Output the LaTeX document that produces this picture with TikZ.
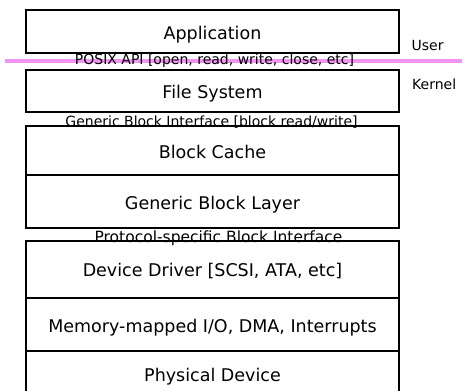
\documentclass[tikz,border=0pt]{standalone}
\usepackage{fontspec}
\setmainfont{DejaVu Sans}
\begin{document}
\begin{tikzpicture}[x=1pt,y=-1pt,
  layerbox/.style={draw=black, line width=1.9pt},
  boundary/.style={draw={rgb,255:red,240;green,136;blue,240}, line width=3.4pt, opacity=0.9},
  boxtext/.style={anchor=base, inner sep=0pt, font=\fontsize{17.5}{17.5}\selectfont},
  ifacetext/.style={anchor=base, inner sep=0pt, font=\fontsize{14}{14}\selectfont},
  sidetext/.style={anchor=base west, inner sep=0pt, font=\fontsize{14}{14}\selectfont},
]
\fill[white] (0,0) rectangle (472,391);
\useasboundingbox (0,0) rectangle (472,391);

% user / kernel boundary
\coordinate (bl) at (5,61);
\coordinate (br) at (462,61);
\draw[boundary] (bl) -- (br);

% layer boxes
\draw[layerbox] (26,10) rectangle (399,53);
\draw[layerbox] (26,70) rectangle (399,112);
\draw[layerbox] (26,126) rectangle (399,228);
\draw[layerbox] (26,175) -- (399,175);
\draw[layerbox] (26,392) -- (26,241) -- (399,241) -- (399,392);
\draw[layerbox] (26,298) -- (399,298);
\draw[layerbox] (26,351) -- (399,351);

% layer names
\node[boxtext] (app) at (212.5,39.5) {Application};
\node[boxtext] (fs) at (212.5,98) {File System};
\node[boxtext] (cache) at (212.5,158.3) {Block Cache};
\node[boxtext] (gbl) at (212.5,209.3) {Generic Block Layer};
\node[boxtext] (drv) at (212.5,276.7) {Device Driver [SCSI, ATA, etc]};
\node[boxtext] (mmio) at (212.5,332.7) {Memory-mapped I/O, DMA, Interrupts};
\node[boxtext] (phys) at (212.5,381.7) {Physical Device};

% interfaces between layers
\node[ifacetext] (posix) at (214.5,64.8) {POSIX API [open, read, write, close, etc]};
\node[ifacetext] (gbi) at (211.5,126.3) {Generic Block Interface [block read/write]};
\node[ifacetext, font=\fontsize{15.5}{15.5}\selectfont] (proto) at (218.5,242.6) {Protocol-specific Block Interface};

% privilege levels
\node[sidetext] (user) at (411.5,50) {User};
\node[sidetext] (kernel) at (412,89.3) {Kernel};
\end{tikzpicture}
\end{document}
